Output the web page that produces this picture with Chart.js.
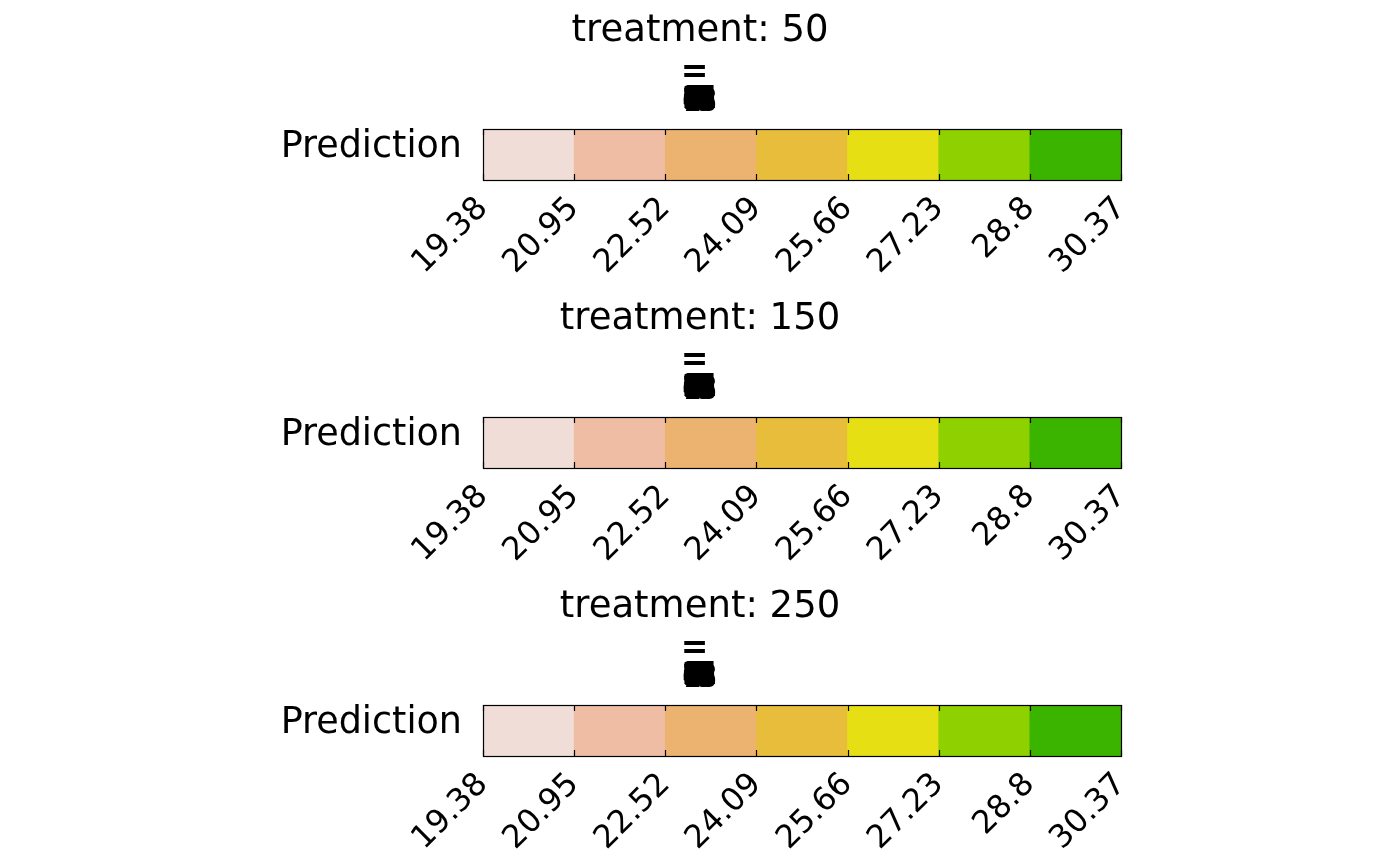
<!DOCTYPE html>
<html>
<head>
<meta charset="utf-8">
<script src="https://cdn.jsdelivr.net/npm/chart.js@4/dist/chart.umd.min.js"></script>
<style>
  html, body { margin: 0; padding: 0; background: #ffffff; }
  #wrap { position: relative; width: 1400px; height: 866px; }
  .panel { position: absolute; left: 0; width: 1400px; height: 288px; }
</style>
</head>
<body>
<div id="wrap">
  <div class="panel" style="top:0px"><canvas id="c0"></canvas></div>
  <div class="panel" style="top:288px"><canvas id="c1"></canvas></div>
  <div class="panel" style="top:576px"><canvas id="c2"></canvas></div>
</div>
<script>
// ---- data ----
const treatments = [50, 150, 250];
const categories = ['Prediction'];
const breaks = [19.38, 20.95, 22.52, 24.09, 25.66, 27.23, 28.8, 30.37];
const tickLabels = ['19.38', '20.95', '22.52', '24.09', '25.66', '27.23', '28.8', '30.37'];
const cellColors = ['#F1DDD7', '#EEBDA3', '#EBB270', '#E8BD3B', '#E5DF14', '#8ED000', '#3BB400'];
const overprintLabels = ['25', '38', '46', '57', '63', '79', '82', '94', '10', '71', '06', '83', '52', '29', '88', '40'];

const FONT = "'DejaVu Sans', sans-serif";

const panelPlugin = {
  id: 'panelDeco',
  afterDraw(chart, args, opts) {
    const ctx = chart.ctx;
    const a = chart.chartArea;
    const xs = chart.scales.x;
    ctx.save();
    // title
    ctx.fillStyle = '#000';
    ctx.textAlign = 'center';
    ctx.textBaseline = 'middle';
    ctx.font = '37px ' + FONT;
    ctx.fillText('treatment: ' + opts.treatment, 700, 31);
    ctx.textBaseline = 'alphabetic';
    ctx.font = 'bold 33px ' + FONT;
    ctx.fillText('=', 694.5, 82);
    // overprinted labels
    ctx.textBaseline = 'middle';
    ctx.font = 'bold 26px ' + FONT;
    overprintLabels.forEach((s, i) => {
      ctx.save();
      ctx.translate(699.5 + ((i % 5) - 2) * 1.2, 101.5 + ((i % 3) - 1) * 1.2);
      ctx.scale(0.8, 1.2);
      ctx.fillText(s, 0, 0);
      ctx.restore();
    });
    // border
    ctx.strokeStyle = '#000';
    ctx.lineWidth = 1.2;
    ctx.strokeRect(Math.round(a.left) + 0.5, Math.round(a.top) + 0.5,
                   Math.round(a.right - a.left), Math.round(a.bottom - a.top));
    // tick marks at cell boundaries
    breaks.forEach(v => {
      const px = Math.round(xs.getPixelForValue(v)) + 0.5;
      ctx.beginPath();
      ctx.moveTo(px, a.top); ctx.lineTo(px, a.top + 6);
      ctx.moveTo(px, a.bottom); ctx.lineTo(px, a.bottom - 6);
      ctx.stroke();
    });
    ctx.restore();
  }
};

treatments.forEach((t, k) => {
  const data = [];
  for (let i = 0; i < cellColors.length; i++) {
    data.push({ y: categories[0], x: [breaks[i], breaks[i + 1]] });
  }
  new Chart(document.getElementById('c' + k), {
    type: 'bar',
    data: {
      labels: categories,
      datasets: [{
        data: data,
        backgroundColor: cellColors,
        borderWidth: 0,
        barPercentage: 1,
        categoryPercentage: 1
      }]
    },
    options: {
      indexAxis: 'y',
      responsive: true,
      maintainAspectRatio: false,
      animation: false,
      layout: { padding: { top: 129, right: 279, left: 0, bottom: 0 } },
      plugins: {
        legend: { display: false },
        tooltip: { enabled: false },
        title: { display: false },
        panelDeco: { treatment: t }
      },
      scales: {
        x: {
          type: 'linear',
          min: breaks[0],
          max: breaks[breaks.length - 1],
          afterBuildTicks(scale) { scale.ticks = breaks.map(v => ({ value: v })); },
          afterFit(scale) { scale.height = 108; },
          grid: { display: false, drawTicks: false },
          border: { display: false },
          ticks: {
            autoSkip: false,
            minRotation: 45,
            maxRotation: 45,
            padding: 10,
            color: '#000',
            font: { family: FONT, size: 32 },
            callback(v, i) { return tickLabels[i]; }
          }
        },
        y: {
          afterFit(scale) { scale.width = 483; },
          grid: { display: false, drawTicks: false },
          border: { display: false },
          ticks: {
            padding: 21,
            labelOffset: -7,
            color: '#000',
            font: { family: FONT, size: 36.5 }
          }
        }
      }
    },
    plugins: [panelPlugin]
  });
});
</script>
</body>
</html>
